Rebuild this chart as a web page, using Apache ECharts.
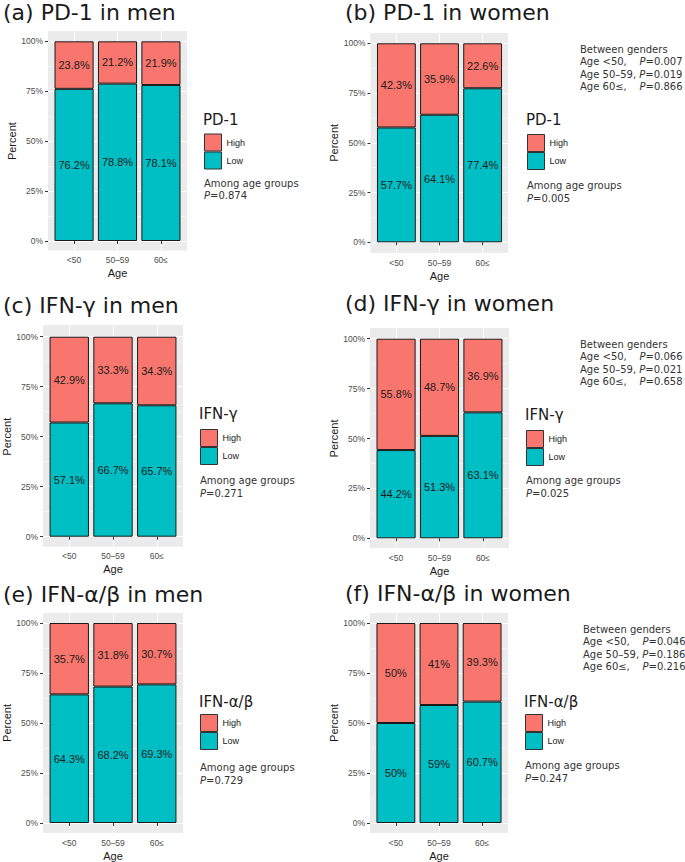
<!DOCTYPE html>
<html><head><meta charset="utf-8">
<script src="https://cdn.jsdelivr.net/npm/echarts@6/dist/echarts.min.js"></script>
<style>html,body{margin:0;padding:0;background:#fff}#c{width:685px;height:862px}</style>
</head><body><div id="c"></div>
<script>
// ---------- data ----------
const categories = ['<50', '50–59', '60≤'];
const panelTitles = ['(a) PD-1 in men', '(b) PD-1 in women', '(c) IFN-γ in men', '(d) IFN-γ in women', '(e) IFN-α/β in men', '(f) IFN-α/β in women'];
const legendTitles = ['PD-1', 'PD-1', 'IFN-γ', 'IFN-γ', 'IFN-α/β', 'IFN-α/β'];
const pd1MenHigh = [23.8, 21.2, 21.9];
const pd1MenLow = [76.2, 78.8, 78.1];
const pd1WomenHigh = [42.3, 35.9, 22.6];
const pd1WomenLow = [57.7, 64.1, 77.4];
const ifngMenHigh = [42.9, 33.3, 34.3];
const ifngMenLow = [57.1, 66.7, 65.7];
const ifngWomenHigh = [55.8, 48.7, 36.9];
const ifngWomenLow = [44.2, 51.3, 63.1];
const ifnabMenHigh = [35.7, 31.8, 30.7];
const ifnabMenLow = [64.3, 68.2, 69.3];
const ifnabWomenHigh = [50, 41, 39.3];
const ifnabWomenLow = [50, 59, 60.7];
const amongP = ['0.874', '0.005', '0.271', '0.025', '0.729', '0.247'];
const betweenPd1 = ['0.007', '0.019', '0.866'];
const betweenIfng = ['0.066', '0.021', '0.658'];
const betweenIfnab = ['0.046', '0.186', '0.216'];
const yTicks = [0, 25, 50, 75, 100];

const highSets = [pd1MenHigh, pd1WomenHigh, ifngMenHigh, ifngWomenHigh, ifnabMenHigh, ifnabWomenHigh];
const lowSets = [pd1MenLow, pd1WomenLow, ifngMenLow, ifngWomenLow, ifnabMenLow, ifnabWomenLow];
const betweenSets = [null, betweenPd1, null, betweenIfng, null, betweenIfnab];

// ---------- layout (pixels) ----------
const layout = [
  {L:48, R:187, T:31, B:250.5, y100:41.3, y0:241, tx:3, ty:12, lx:204, lty:120, kt:133.5, ay:183.3, bx:0, by:0},
  {L:370.5, R:508.5, T:33, B:253, y100:43.3, y0:242.3, tx:345, ty:12.5, lx:527, lty:120, kt:134, ay:185.7, bx:580, by:49.3},
  {L:43, R:183, T:325, B:546.7, y100:336.7, y0:536.7, tx:3, ty:305.5, lx:200, lty:414, kt:429, ay:481, bx:0, by:0},
  {L:370, R:509, T:328, B:548, y100:338.7, y0:538.3, tx:345, ty:303.5, lx:526, lty:415, kt:430, ay:481, bx:580, by:344.3},
  {L:43, R:183, T:613, B:833, y100:623, y0:823, tx:3, ty:594.5, lx:200, lty:702, kt:714, ay:768, bx:0, by:0},
  {L:370, R:508, T:613, B:833, y100:623, y0:823, tx:345, ty:593, lx:525, lty:702, kt:714, ay:766, bx:583, by:629.3}
];

const HIGH = '#F8766D', LOW = '#00BFC4';
const grid = [], xAxis = [], yAxis = [], series = [], legend = [], graphic = [];
const sans = 'Liberation Sans';
const dv = 'DejaVu Sans';

layout.forEach((p, i) => {
  const W = p.R - p.L;
  const u = W / 3.2;
  const g0 = grid.length;
  // background grid
  grid.push({left: p.L, top: p.T, width: W, height: p.B - p.T, show: true, backgroundColor: '#EBEBEB', borderWidth: 0});
  xAxis.push({gridIndex: g0, type: 'category', data: Array.from({length: 16}, (_, k) => 'c' + k), boundaryGap: true,
    axisLine: {show: false}, axisTick: {show: false}, axisLabel: {show: false},
    splitLine: {show: true, interval: (idx) => idx === 3 || idx === 8 || idx === 13, lineStyle: {color: '#fff', width: 1}}});
  yAxis.push({gridIndex: g0, type: 'value', min: 0, max: 1, show: false});
  // horizontal lines + y axis grid
  grid.push({left: p.L, top: p.y100, width: W, height: p.y0 - p.y100, show: false});
  xAxis.push({gridIndex: g0 + 1, type: 'value', min: 0, max: 1, show: false});
  yAxis.push({gridIndex: g0 + 1, type: 'value', min: 0, max: 100, interval: 25,
    name: 'Percent', nameLocation: 'middle', nameGap: 30,
    nameTextStyle: {fontFamily: sans, fontSize: 11, color: '#1a1a1a'},
    axisLine: {show: false},
    axisTick: {show: true, length: 3, lineStyle: {color: '#333', width: 1}},
    axisLabel: {formatter: v => v + '%', fontFamily: sans, fontSize: 8.5, color: '#4D4D4D', margin: 5},
    splitLine: {show: true, lineStyle: {color: '#fff', width: 1}},
    minorTick: {show: false, splitNumber: 2},
    minorSplitLine: {show: true, lineStyle: {color: '#fff', width: 0.5}}});
  // data grid
  grid.push({left: p.L + 0.1 * u, top: p.y100, width: 3 * u, height: p.y0 - p.y100, show: false});
  xAxis.push({gridIndex: g0 + 2, type: 'category', data: categories, offset: p.B - p.y0,
    name: 'Age', nameLocation: 'middle', nameGap: 17,
    nameTextStyle: {fontFamily: sans, fontSize: 11, color: '#1a1a1a'},
    axisLine: {show: false},
    axisTick: {show: true, alignWithLabel: true, length: 3, lineStyle: {color: '#333', width: 1}},
    axisLabel: {fontFamily: sans, fontSize: 8.5, color: '#4D4D4D', margin: 5},
    splitLine: {show: false}});
  yAxis.push({gridIndex: g0 + 2, type: 'value', min: 0, max: 100, show: false});
  const lbl = {show: true, position: 'inside', fontFamily: sans, fontSize: 11, color: '#1a1a1a',
    formatter: (d) => d.value + '%'};
  series.push({type: 'bar', name: 'Low', id: 'low' + i, xAxisIndex: g0 + 2, yAxisIndex: g0 + 2, stack: 's' + i,
    data: lowSets[i], barCategoryGap: '10%', itemStyle: {color: LOW, borderColor: '#1a1a1a', borderWidth: 1},
    label: lbl, emphasis: {disabled: true}});
  series.push({type: 'bar', name: 'High', id: 'high' + i, xAxisIndex: g0 + 2, yAxisIndex: g0 + 2, stack: 's' + i,
    data: highSets[i], barCategoryGap: '10%', itemStyle: {color: HIGH, borderColor: '#1a1a1a', borderWidth: 1},
    label: lbl, emphasis: {disabled: true}});
  legend.push({orient: 'vertical', left: p.lx, top: p.kt, itemWidth: 17, itemHeight: 17, itemGap: 0, padding: 0,
    selectedMode: false, icon: 'rect', data: ['High', 'Low'],
    itemStyle: {borderColor: '#333', borderWidth: 1},
    textStyle: {fontFamily: sans, fontSize: 9, color: '#1a1a1a'}});
  // texts
  graphic.push({type: 'text', x: p.tx, y: p.ty, style: {text: panelTitles[i], font: '22px "DejaVu Sans"', fill: '#1a1a1a', verticalAlign: 'middle', align: 'left'}});
  graphic.push({type: 'text', x: p.lx - 1, y: p.lty, style: {text: legendTitles[i], font: '15px "DejaVu Sans"', fill: '#1a1a1a', verticalAlign: 'middle', align: 'left'}});
  graphic.push({type: 'text', x: p.lx, y: p.ay - 6.2, style: {text: 'Among age groups\n{i|P}=' + amongP[i],
    font: '10px "DejaVu Sans"', fill: '#333', lineHeight: 12.4, verticalAlign: 'top', align: 'left',
    rich: {i: {fontStyle: 'italic', fontFamily: dv, fontSize: 10, fill: '#333', lineHeight: 12.4}}}});
  const bp = betweenSets[i];
  if (bp) {
    graphic.push({type: 'text', x: p.bx, y: p.by - 6.2, style: {
      text: 'Between genders\nAge <50,    {i|P}=' + bp[0] + '\nAge 50–59, {i|P}=' + bp[1] + '\nAge 60≤,    {i|P}=' + bp[2],
      font: '10px "DejaVu Sans"', fill: '#333', lineHeight: 12.4, verticalAlign: 'top', align: 'left',
      rich: {i: {fontStyle: 'italic', fontFamily: dv, fontSize: 10, fill: '#333', lineHeight: 12.4}}}});
  }
});

const chart = echarts.init(document.getElementById('c'), null, {renderer: 'svg'});
chart.setOption({backgroundColor: '#fff', animation: false, grid, xAxis, yAxis, series, legend, graphic});
</script></body></html>
